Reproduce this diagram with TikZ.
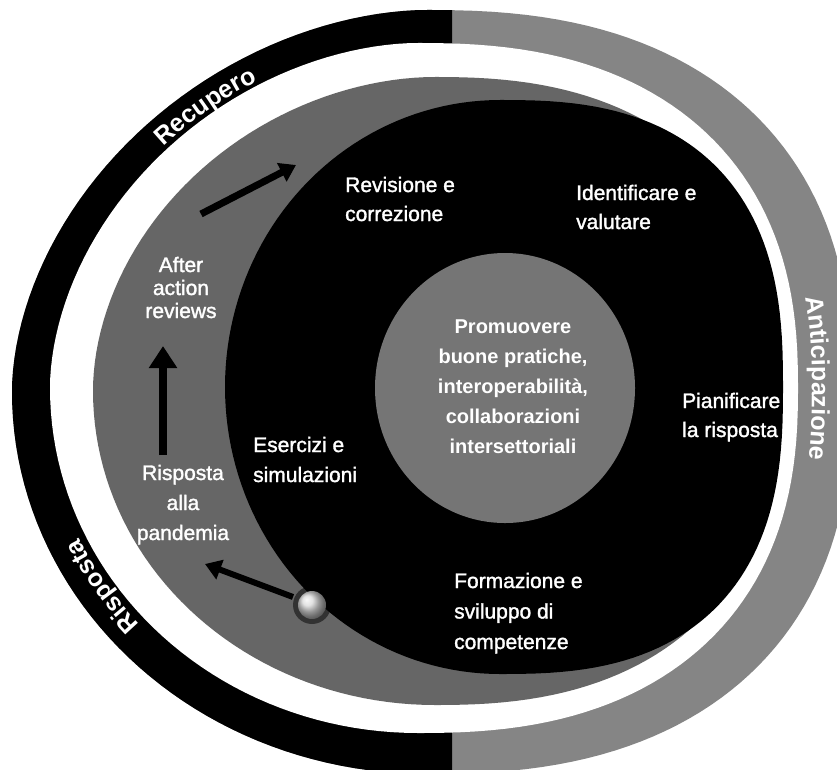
\documentclass[tikz,border=0pt]{standalone}
\usepackage{fontspec}
\setmainfont{Liberation Sans}
\newfontfamily\medsans{Liberation Sans}[FakeBold=1.5]
\usetikzlibrary{arrows.meta,decorations.text,shadings}
\definecolor{diskgray}{gray}{0.40}
\definecolor{ringgray}{gray}{0.52}
\definecolor{coregray}{gray}{0.46}
% blob made of four superellipse quadrants:
% cx, cy, right x radius, left x radius, top y radius, bottom y radius,
% exponent right half, exponent top-left, exponent bottom-left
\newcommand{\blob}[9]{%
plot[domain=0:90,samples=46,variable=\t] ({#1+#3*cos(\t)*pow(abs(cos(\t))+0.0001,2/#7-1)},{#2-#5*sin(\t)*pow(abs(sin(\t))+0.0001,2/#7-1)})
-- plot[domain=90:180,samples=46,variable=\t] ({#1+#4*cos(\t)*pow(abs(cos(\t))+0.0001,2/#8-1)},{#2-#5*sin(\t)*pow(abs(sin(\t))+0.0001,2/#8-1)})
-- plot[domain=180:270,samples=46,variable=\t] ({#1+#4*cos(\t)*pow(abs(cos(\t))+0.0001,2/#9-1)},{#2-#6*sin(\t)*pow(abs(sin(\t))+0.0001,2/#9-1)})
-- plot[domain=270:360,samples=46,variable=\t] ({#1+#3*cos(\t)*pow(abs(cos(\t))+0.0001,2/#7-1)},{#2-#6*sin(\t)*pow(abs(sin(\t))+0.0001,2/#7-1)}) -- cycle}
\newcommand{\lns}[2]{\begin{tabular}[t]{@{}#1@{}}#2\end{tabular}}
\begin{document}
\begin{tikzpicture}[x=1pt,y=-1pt,
  txt/.style={text=white,inner sep=0pt,font=\medsans\fontsize{21}{29}\selectfont},
  txtc/.style={text=white,inner sep=0pt,font=\fontsize{20}{30}\selectfont\bfseries},
  bigarrow/.style={line width=8pt,-{Triangle[width=27pt,length=22pt]}},
  midarrow/.style={line width=7pt,-{Triangle[width=20pt,length=16pt]}},
  ringlabel/.style={decorate,decoration={text along path,text color=white,text align=center,text={|\bfseries\fontsize{25}{25}\selectfont|#1}}}]
\useasboundingbox (0,0) rectangle (837,769);
\clip (0,0) rectangle (837,769);
\fill[white] (0,0) rectangle (837,769);
% outer ring
\fill[ringgray] \blob{427}{392}{425}{415}{382}{382}{2.4}{1.85}{2};
\begin{scope}
  \clip (0,0) rectangle (452,769);
  \fill[black] \blob{427}{392}{425}{415}{382}{382}{2.4}{1.85}{2};
\end{scope}
\fill[white] \blob{418}{388}{380}{368}{345}{345}{2.4}{1.85}{2};
% discs
\fill[diskgray] \blob{435}{391}{345}{342}{314}{314}{2.4}{1.9}{2};
\fill[black] \blob{500}{387}{283}{275}{287}{287}{2.6}{2}{2};
\fill[coregray] (505,388) ellipse [x radius=130, y radius=135];
% ring labels
\path[ringlabel=Recupero] plot[domain=152:100,samples=70,variable=\t] ({422+378*cos(\t)*pow(abs(cos(\t))+0.0001,2/1.85-1)},{390-352*sin(\t)*pow(abs(sin(\t))+0.0001,2/1.85-1)});
\path[ringlabel=Risposta] plot[domain=238:188,samples=60,variable=\t] ({422+378*cos(\t)},{390-352*sin(\t)});
\path[ringlabel=Anticipazione] plot[domain=37:-33,samples=80,variable=\t] ({422+390*cos(\t)*pow(abs(cos(\t))+0.0001,2/2.4-1)},{390-354*sin(\t)*pow(abs(sin(\t))+0.0001,2/2.4-1)});
% texts
\node[txt,anchor=base west] (rev) at (345,192) {\lns{l}{Revisione e\\correzione}};
\node[txt,anchor=base west] (ide) at (576,200) {\lns{l}{Identificare e\\valutare}};
\node[txt,anchor=base,font=\medsans\fontsize{21}{23}\selectfont] (aft) at (181,272) {\lns{c}{After\\action\\reviews}};
\node[txt,anchor=base,font=\medsans\fontsize{21}{30}\selectfont] (ris) at (183,480) {\lns{c}{Risposta\\alla\\pandemia}};
\node[txt,anchor=base west,font=\medsans\fontsize{21}{30}\selectfont] (ese) at (253,452) {\lns{l}{Esercizi e\\simulazioni}};
\node[txt,anchor=base west] (pia) at (682,408) {\lns{l}{Pianificare\\la risposta}};
\node[txt,anchor=base west,font=\medsans\fontsize{21}{30.5}\selectfont] (for) at (454,588) {\lns{l}{Formazione e\\sviluppo di\\competenze}};
\node[txtc,anchor=base] (core) at (513,333) {\lns{c}{Promuovere\\buone pratiche,\\interoperabilità,\\collaborazioni\\intersettoriali}};
% arrows and dot
\coordinate (v1) at (163,455); \coordinate (v2) at (163,346);
\coordinate (u1) at (201,214); \coordinate (u2) at (296,165);
\coordinate (l1) at (293,597); \coordinate (l2) at (205,564);
\draw[bigarrow] (v1) -- (v2);
\draw[midarrow] (u1) -- (u2);
\draw[midarrow,line width=6pt] (l1) -- (l2);
\fill[black,opacity=0.5] (312,605) circle (19);
\node[circle,minimum size=28pt,inner sep=0pt,ball color=gray!30] (dot) at (312,605) {};
\end{tikzpicture}
\end{document}
